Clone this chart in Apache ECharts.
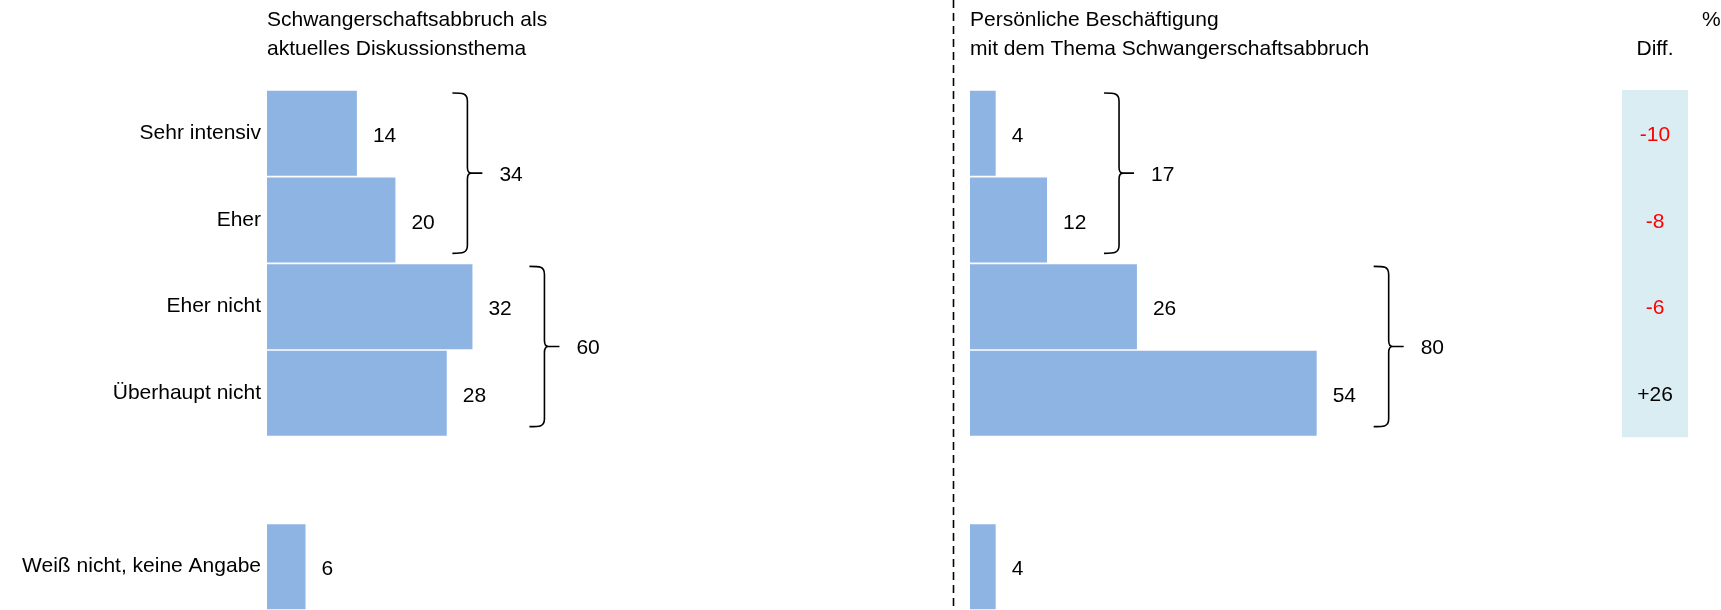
<!DOCTYPE html>
<html>
<head>
<meta charset="utf-8">
<script src="https://cdn.jsdelivr.net/npm/echarts@6/dist/echarts.min.js"></script>
<style>
  html, body { margin: 0; padding: 0; background: #fff; }
  #chart { width: 1721px; height: 610px; }
</style>
</head>
<body>
<div id="chart"></div>
<script>
// rows (empty one is the gap before "Weiß nicht")
const rows = ['Sehr intensiv', 'Eher', 'Eher nicht', 'Überhaupt nicht', '', 'Weiß nicht, keine Angabe'];
const discussion = [14, 20, 32, 28, null, 6];
const personal = [4, 12, 26, 54, null, 4];
const diffValues = [-10, -8, -6, 26];
// [first row, last row, total]
const leftGroups = [[0, 1, 34], [2, 3, 60]];
const rightGroups = [[0, 1, 17], [2, 3, 80]];

const titleLeft = 'Schwangerschaftsabbruch als\naktuelles Diskussionsthema';
const titleRight = 'Persönliche Beschäftigung\nmit dem Thema Schwangerschaftsabbruch';

const FONT = '"Liberation Sans", Arial, sans-serif';
const BAR = '#8eb4e3';

function groupData(groups, values) {
  return groups.map(g => {
    let mx = Math.max(...values.slice(g[0], g[1] + 1));
    return [g[0], g[1], mx, g[2]];
  });
}

function renderBracket(params, api) {
  const start = api.value(0), end = api.value(1), mx = api.value(2), total = api.value(3);
  const h = api.size([0, 1])[1];
  const top = api.coord([0, start])[1] - h / 2 + 3;
  const bot = api.coord([0, end])[1] + h / 2 - 10;
  const x0 = api.coord([mx, start])[0] + 57;
  const x = x0 + 15;
  const mid = (top + bot) / 2;
  const path =
    'M' + x0 + ',' + top +
    ' C' + (x0 + 10) + ',' + top + ' ' + x + ',' + top + ' ' + x + ',' + (top + 8) +
    ' L' + x + ',' + (mid - 6) +
    ' Q' + x + ',' + mid + ' ' + (x + 4) + ',' + mid +
    ' L' + (x + 15) + ',' + mid +
    ' M' + (x + 4) + ',' + mid +
    ' Q' + x + ',' + mid + ' ' + x + ',' + (mid + 6) +
    ' L' + x + ',' + (bot - 8) +
    ' C' + x + ',' + bot + ' ' + (x0 + 10) + ',' + bot + ' ' + x0 + ',' + bot;
  return {
    type: 'group',
    children: [
      {
        type: 'path',
        shape: { pathData: path },
        style: { fill: 'none', stroke: '#000', lineWidth: 1.6 }
      },
      {
        type: 'text',
        style: {
          x: x + 32, y: mid + 2, text: String(total),
          font: '21px ' + FONT, fill: '#000',
          textAlign: 'left', textVerticalAlign: 'middle'
        }
      }
    ]
  };
}

function renderDiff(params, api) {
  const row = api.value(0), d = api.value(1);
  const cs = params.coordSys;
  const h = api.size([0, 1])[1];
  const cy = api.coord([0, row])[1];
  return {
    type: 'group',
    children: [
      {
        type: 'rect',
        shape: { x: cs.x, y: cy - h / 2, width: cs.width, height: h + 0.5 },
        style: { fill: '#daedf3' }
      },
      {
        type: 'text',
        style: {
          x: cs.x + cs.width / 2, y: cy + 2,
          text: d > 0 ? '+' + d : String(d),
          font: '21px ' + FONT, fill: d < 0 ? '#ff0000' : '#000',
          textAlign: 'center', textVerticalAlign: 'middle'
        }
      }
    ]
  };
}

let chart = echarts.init(document.getElementById('chart'), null, { renderer: 'canvas' });

const yBase = {
  type: 'category',
  data: rows,
  inverse: true,
  axisLine: { show: false },
  axisTick: { show: false },
  splitLine: { show: false }
};
const xBase = {
  type: 'value', min: 0, max: 100, show: false
};
const labelStyle = {
  show: true, position: 'right', distance: 16,
  fontFamily: FONT, fontSize: 21, color: '#000', offset: [0, 3]
};
const titleStyle = { fontFamily: FONT, fontSize: 21, fontWeight: 'normal', color: '#000', lineHeight: 29 };

let option = {
  backgroundColor: '#fff',
  animation: false,
  textStyle: { fontFamily: FONT },
  title: [
    { text: titleLeft, left: 267, top: 6, padding: 0, textStyle: titleStyle },
    { text: titleRight, left: 970, top: 6, padding: 0, textStyle: titleStyle },
    { text: '%', left: 1702, top: 6, padding: 0, textStyle: titleStyle },
    { text: 'Diff.', left: 1655, top: 35, padding: 0, textAlign: 'center', textStyle: titleStyle }
  ],
  grid: [
    { left: 267, top: 90, width: 642, height: 520 },
    { left: 970, top: 90, width: 642, height: 520 },
    { left: 1622, top: 90, width: 66, height: 520 }
  ],
  xAxis: [
    Object.assign({ gridIndex: 0 }, xBase),
    Object.assign({ gridIndex: 1 }, xBase),
    { gridIndex: 2, type: 'value', min: 0, max: 1, show: false }
  ],
  yAxis: [
    Object.assign({ gridIndex: 0, axisLabel: { margin: 6, fontFamily: FONT, fontSize: 21, color: '#000' } }, yBase),
    Object.assign({ gridIndex: 1, axisLabel: { show: false } }, yBase),
    Object.assign({ gridIndex: 2, axisLabel: { show: false } }, yBase)
  ],
  series: [
    {
      name: 'Diskussionsthema', type: 'bar', xAxisIndex: 0, yAxisIndex: 0,
      data: discussion, barCategoryGap: '2%',
      itemStyle: { color: BAR }, label: labelStyle
    },
    {
      name: 'Persönliche Beschäftigung', type: 'bar', xAxisIndex: 1, yAxisIndex: 1,
      data: personal, barCategoryGap: '2%',
      itemStyle: { color: BAR }, label: labelStyle
    },
    {
      type: 'custom', xAxisIndex: 0, yAxisIndex: 0,
      renderItem: renderBracket, encode: { x: 2, y: 0 },
      data: groupData(leftGroups, discussion)
    },
    {
      type: 'custom', xAxisIndex: 1, yAxisIndex: 1,
      renderItem: renderBracket, encode: { x: 2, y: 0 },
      data: groupData(rightGroups, personal)
    },
    {
      type: 'custom', xAxisIndex: 2, yAxisIndex: 2,
      renderItem: renderDiff, encode: { x: 1, y: 0 },
      data: diffValues.map((d, i) => [i, d])
    }
  ],
  graphic: [
    {
      type: 'line',
      shape: { x1: 953.5, y1: 0, x2: 953.5, y2: 610 },
      style: { stroke: '#000', lineWidth: 1.6, lineDash: [8, 5] }
    }
  ]
};

chart.setOption(option);
window.addEventListener('resize', chart.resize);
</script>
</body>
</html>
